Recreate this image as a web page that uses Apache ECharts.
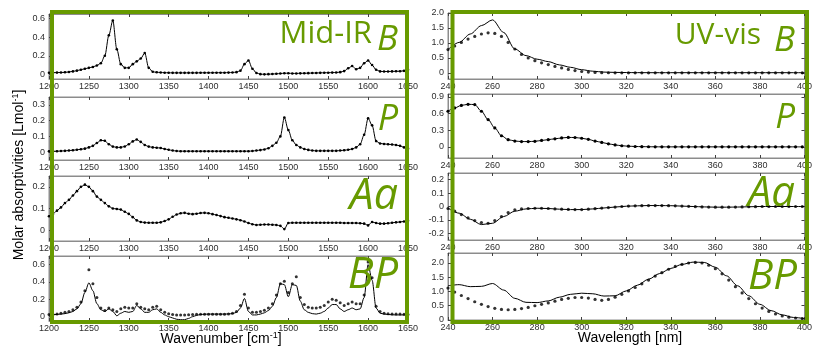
<!DOCTYPE html>
<html>
<head>
<meta charset="utf-8">
<script src="https://cdn.jsdelivr.net/npm/echarts@6/dist/echarts.min.js"></script>
<style>
html,body{margin:0;padding:0;background:#fff}
#chart{width:815px;height:347px}
</style>
</head>
<body>
<div id="chart"></div>
<script>
// ---- Mid-IR spectra, 5 cm-1 sampling ----
const irWavenumber = [
  1200,1205,1210,1215,1220,1225,1230,1235,1240,1245,
  1250,1255,1260,1265,1270,1275,1280,1285,1290,1295,
  1300,1305,1310,1315,1320,1325,1330,1335,1340,1345,
  1350,1355,1360,1365,1370,1375,1380,1385,1390,1395,
  1400,1405,1410,1415,1420,1425,1430,1435,1440,1445,
  1450,1455,1460,1465,1470,1475,1480,1485,1490,1495,
  1500,1505,1510,1515,1520,1525,1530,1535,1540,1545,
  1550,1555,1560,1565,1570,1575,1580,1585,1590,1595,
  1600,1605,1610,1615,1620,1625,1630,1635,1640,1645,
  1650
];
const irB = [
  0.018,0.018,0.019,0.020,0.022,0.026,0.032,0.040,0.050,0.060,
  0.070,0.080,0.095,0.120,0.200,0.420,0.580,0.270,0.110,0.070,
  0.070,0.110,0.140,0.170,0.230,0.070,0.028,0.022,0.020,0.018,
  0.017,0.016,0.016,0.016,0.016,0.016,0.016,0.016,0.017,0.017,
  0.017,0.017,0.018,0.018,0.018,0.019,0.020,0.024,0.040,0.110,
  0.150,0.060,0.015,0.002,0.000,0.002,0.004,0.006,0.009,0.012,
  0.012,0.010,0.010,0.011,0.012,0.013,0.014,0.015,0.016,0.017,
  0.018,0.019,0.020,0.024,0.035,0.065,0.090,0.055,0.070,0.120,
  0.150,0.100,0.050,0.032,0.030,0.031,0.032,0.033,0.034,0.038,
  0.050
];
const irP = [
  0.005,0.005,0.006,0.007,0.008,0.010,0.012,0.015,0.018,0.022,
  0.030,0.040,0.058,0.075,0.072,0.050,0.035,0.030,0.030,0.036,
  0.050,0.068,0.080,0.065,0.045,0.035,0.030,0.028,0.026,0.020,
  0.015,0.010,0.007,0.006,0.006,0.006,0.006,0.006,0.006,0.006,
  0.006,0.006,0.006,0.006,0.006,0.006,0.006,0.006,0.006,0.006,
  0.006,0.007,0.010,0.013,0.017,0.025,0.040,0.060,0.100,0.220,
  0.140,0.075,0.045,0.030,0.020,0.014,0.010,0.008,0.008,0.008,
  0.008,0.008,0.008,0.010,0.012,0.015,0.020,0.030,0.050,0.110,
  0.215,0.170,0.070,0.055,0.052,0.050,0.048,0.045,0.040,0.030,
  0.022
];
const irAa = [
  0.064,0.075,0.090,0.105,0.125,0.140,0.160,0.180,0.200,0.210,
  0.200,0.180,0.155,0.140,0.125,0.110,0.100,0.098,0.095,0.085,
  0.075,0.060,0.045,0.038,0.035,0.034,0.034,0.034,0.036,0.042,
  0.050,0.062,0.072,0.078,0.080,0.076,0.074,0.076,0.079,0.080,
  0.078,0.074,0.070,0.065,0.060,0.057,0.054,0.050,0.046,0.040,
  0.033,0.027,0.024,0.025,0.026,0.026,0.025,0.024,0.020,0.005,
  0.033,0.034,0.034,0.034,0.034,0.034,0.034,0.034,0.034,0.034,
  0.034,0.034,0.034,0.034,0.033,0.033,0.033,0.033,0.032,0.030,
  0.022,0.038,0.033,0.030,0.030,0.032,0.034,0.036,0.038,0.040,
  0.043
];
const irBPFit = [
  0.020,0.022,0.026,0.030,0.035,0.045,0.060,0.090,0.150,0.280,
  0.390,0.300,0.150,0.080,0.060,0.090,0.060,0.010,0.040,0.060,
  0.050,0.060,0.130,0.090,0.050,0.050,0.080,0.090,0.050,0.020,
  0.000,-0.015,-0.030,-0.035,-0.035,-0.020,0.000,0.015,0.025,0.028,
  0.030,0.030,0.030,0.030,0.030,0.032,0.035,0.050,0.100,0.210,
  0.060,0.020,0.020,0.030,0.045,0.070,0.120,0.220,0.380,0.370,
  0.230,0.370,0.360,0.180,0.080,0.050,0.035,0.030,0.040,0.060,
  0.100,0.140,0.140,0.090,0.060,0.080,0.100,0.080,0.090,0.220,
  0.600,0.420,0.100,0.040,0.030,0.025,0.022,0.020,0.020,0.020,
  0.020
];
const irBPMeasured = [
  0.025,0.028,0.032,0.040,0.050,0.060,0.080,0.110,0.170,0.300,
  0.540,0.380,0.220,0.100,0.070,0.100,0.080,0.060,0.090,0.110,
  0.100,0.100,0.150,0.110,0.090,0.080,0.110,0.120,0.080,0.050,
  0.035,0.025,0.020,0.020,0.020,0.022,0.025,0.028,0.028,0.028,
  0.028,0.028,0.028,0.028,0.028,0.030,0.040,0.060,0.130,0.260,
  0.100,0.050,0.050,0.060,0.075,0.100,0.150,0.250,0.380,0.410,
  0.280,0.380,0.460,0.220,0.140,0.110,0.100,0.100,0.110,0.130,
  0.170,0.200,0.190,0.160,0.130,0.150,0.170,0.150,0.150,0.250,
  0.630,0.450,0.120,0.060,0.040,0.035,0.030,0.030,0.030,0.028,
  0.025
];

// ---- UV-vis spectra: measured points every 3 nm, fitted curves every 5 nm ----
const uvWavelengthMeasured = [
  240,243,246,249,252,255,258,261,264,267,
  270,273,276,279,282,285,288,291,294,297,
  300,303,306,309,312,315,318,321,324,327,
  330,333,336,339,342,345,348,351,354,357,
  360,363,366,369,372,375,378,381,384,387,
  390,393,396,399
];
const uvWavelengthFit = [
  240,245,250,255,260,265,270,275,280,285,
  290,295,300,305,310,315,320,325,330,335,
  340,345,350,355,360,365,370,375,380,385,
  390,395,400
];
const uvBMeasured = [
  0.78,0.90,1.02,1.13,1.22,1.30,1.34,1.32,1.22,1.02,
  0.80,0.62,0.50,0.41,0.34,0.28,0.22,0.17,0.12,0.08,
  0.05,0.03,0.02,0.012,0.008,0.006,0.005,0.005,0.005,0.005,
  0.005,0.005,0.005,0.005,0.005,0.005,0.005,0.005,0.005,0.005,
  0.005,0.005,0.005,0.005,0.005,0.005,0.005,0.005,0.005,0.005,
  0.005,0.005,0.005,0.005
];
const uvBFit = [
  0.78,1.02,1.30,1.58,1.77,1.35,0.80,0.58,0.46,0.38,
  0.27,0.19,0.11,0.06,0.03,0.02,0.015,0.012,0.01,0.01,
  0.01,0.01,0.01,0.01,0.01,0.01,0.01,0.01,0.01,0.01,
  0.01,0.01,0.01
];
const uvP = [
  0.64,0.70,0.745,0.765,0.76,0.64,0.49,0.34,0.20,0.13,
  0.105,0.095,0.095,0.100,0.115,0.130,0.145,0.160,0.170,0.168,
  0.155,0.135,0.105,0.080,0.055,0.035,0.020,0.012,0.007,0.004,
  0.002,0.001,0,0,0,0,0,0,0,0,
  0,0,0,0,0,0,0,0,0,0,
  0,0,0,0
];
const uvAaMeasured = [
  -0.015,-0.035,-0.060,-0.085,-0.105,-0.120,-0.125,-0.105,-0.075,-0.045,
  -0.025,-0.018,-0.015,-0.013,-0.013,-0.015,-0.018,-0.020,-0.022,-0.023,
  -0.023,-0.020,-0.016,-0.012,-0.008,-0.004,0.000,0.003,0.005,0.006,
  0.007,0.007,0.007,0.006,0.005,0.003,0.001,-0.001,-0.003,-0.004,
  -0.005,-0.005,-0.005,-0.004,-0.003,-0.002,-0.001,0.000,0.000,0.000,
  0,0,0,0
];
const uvAaFit = [
  -0.012,-0.050,-0.095,-0.135,-0.125,-0.075,-0.035,-0.018,-0.013,-0.015,
  -0.020,-0.023,-0.023,-0.018,-0.011,-0.004,0.002,0.005,0.007,0.007,
  0.006,0.003,0.000,-0.003,-0.005,-0.005,-0.004,-0.002,0.000,0.000,
  0,0,0
];
const uvBPMeasured = [
  1.12,0.98,0.86,0.75,0.64,0.55,0.47,0.41,0.37,0.36,
  0.37,0.40,0.44,0.50,0.55,0.60,0.66,0.72,0.76,0.79,
  0.79,0.77,0.72,0.69,0.72,0.80,0.90,1.02,1.14,1.27,
  1.40,1.54,1.66,1.78,1.88,1.95,2.00,2.02,2.00,1.92,
  1.80,1.62,1.40,1.17,0.95,0.75,0.57,0.42,0.30,0.21,
  0.14,0.10,0.07,0.05
];
const uvBPFit = [
  1.20,1.24,1.17,1.18,1.28,1.05,0.76,0.62,0.61,0.67,
  0.80,0.90,0.94,0.92,0.84,0.85,1.02,1.22,1.43,1.63,
  1.81,1.95,2.03,2.02,1.85,1.55,1.20,0.85,0.55,0.33,
  0.18,0.09,0.05
];

// ---- tick labels ----
const irWavenumberTicks = [1200,1250,1300,1350,1400,1450,1500,1550,1600,1650];
const uvWavelengthTicks = [240,260,280,300,320,340,360,380,400];
const irBTicks = [0,0.2,0.4,0.6];
const irPTicks = [0,0.1,0.2,0.3];
const irAaTicks = [0,0.1,0.2];
const irBPTicks = [0,0.2,0.4,0.6];
const uvBTicks = [0,0.5,1,1.5,2];
const uvPTicks = [0,0.3,0.6,0.9];
const uvAaTicks = [-0.2,-0.1,0,0.1,0.2];
const uvBPTicks = [0,0.5,1,1.5,2];

// ---- styling ----
const GREEN = '#679a00';
const AXIS_GRAY = '#8c8c8c';
const TICK_DARK = '#404040';
const LABEL_GRAY = '#2e2e2e';
const TICK_FONT = '"Liberation Sans", Arial, sans-serif';
const BIG_FONT = '"Open Sans", sans-serif';

const pairs = (xs, ys) => xs.map((x, i) => [x, ys[i]]);
const fmtY = v => (v === 0 ? '0' : v.toFixed(1));
const fmtX = v => String(Math.round(v));

const IR_X = [1200, 1650];
const UV_X = [240, 400];

const panels = [
  { box: [49, 14, 359, 65],  xr: IR_X, xt: irWavenumberTicks, yr: [-0.05, 0.65], yt: irBTicks },
  { box: [49, 97, 359, 63],  xr: IR_X, xt: irWavenumberTicks, yr: [-0.05, 0.35], yt: irPTicks },
  { box: [49, 176, 359, 65], xr: IR_X, xt: irWavenumberTicks, yr: [-0.05, 0.25], yt: irAaTicks },
  { box: [49, 256, 359, 65], xr: IR_X, xt: irWavenumberTicks, yr: [-0.05, 0.70], yt: irBPTicks },
  { box: [448, 13, 360, 66], xr: UV_X, xt: uvWavelengthTicks, yr: [-0.2, 2.0],  yt: uvBTicks },
  { box: [448, 94, 360, 64], xr: UV_X, xt: uvWavelengthTicks, yr: [-0.2, 0.95], yt: uvPTicks },
  { box: [448, 173, 360, 67],xr: UV_X, xt: uvWavelengthTicks, yr: [-0.25, 0.25],yt: uvAaTicks },
  { box: [448, 253, 360, 67],xr: UV_X, xt: uvWavelengthTicks, yr: [0, 2.35],    yt: uvBPTicks }
];

const grid = [], xAxis = [], yAxis = [];
panels.forEach((p, i) => {
  grid.push({
    left: p.box[0], top: p.box[1], width: p.box[2], height: p.box[3],
    show: true, borderColor: AXIS_GRAY, borderWidth: 1, backgroundColor: 'transparent'
  });
  const tick = vals => ({ show: true, inside: true, length: 3, customValues: vals,
                          lineStyle: { color: TICK_DARK, width: 1 } });
  const line = { show: true, onZero: false, lineStyle: { color: AXIS_GRAY, width: 1 } };
  xAxis.push({
    type: 'value', gridIndex: i, min: p.xr[0], max: p.xr[1], position: 'bottom',
    axisLine: line, axisTick: tick(p.xt), splitLine: { show: false },
    axisLabel: { customValues: p.xt, formatter: fmtX, fontSize: 9, fontFamily: TICK_FONT,
                 color: LABEL_GRAY, margin: 3 }
  });
  xAxis.push({
    type: 'value', gridIndex: i, min: p.xr[0], max: p.xr[1], position: 'top',
    axisLine: line, axisTick: tick(p.xt), splitLine: { show: false }, axisLabel: { show: false }
  });
  yAxis.push({
    type: 'value', gridIndex: i, min: p.yr[0], max: p.yr[1], position: 'left',
    axisLine: line, axisTick: tick(p.yt), splitLine: { show: false },
    axisLabel: { customValues: p.yt, formatter: fmtY, fontSize: 9, fontFamily: TICK_FONT,
                 color: LABEL_GRAY, margin: 4 }
  });
  yAxis.push({
    type: 'value', gridIndex: i, min: p.yr[0], max: p.yr[1], position: 'right',
    axisLine: line, axisTick: tick(p.yt), splitLine: { show: false }, axisLabel: { show: false }
  });
});

const curve = (i, data, withDots, dotSize) => ({
  type: 'line', xAxisIndex: 2 * i, yAxisIndex: 2 * i, data,
  smooth: 0.3, smoothMonotone: 'x',
  showSymbol: !!withDots, showAllSymbol: true, symbol: 'circle', symbolSize: dotSize || 2.5,
  itemStyle: { color: '#000' }, lineStyle: { color: '#000', width: 1 },
  silent: true, z: 3
});
const dots = (i, data, size) => ({
  type: 'scatter', xAxisIndex: 2 * i, yAxisIndex: 2 * i, data,
  symbol: 'circle', symbolSize: size, itemStyle: { color: '#000' }, silent: true, z: 4
});

const series = [
  curve(0, pairs(irWavenumber, irB), true, 2.6),
  curve(1, pairs(irWavenumber, irP), true, 2.6),
  curve(2, pairs(irWavenumber, irAa), true, 2.6),
  curve(3, pairs(irWavenumber, irBPFit), false),
  dots(3, pairs(irWavenumber, irBPMeasured), 3),
  curve(4, pairs(uvWavelengthFit, uvBFit), false),
  dots(4, pairs(uvWavelengthMeasured, uvBMeasured), 3.2),
  curve(5, pairs(uvWavelengthMeasured, uvP), true, 3.2),
  curve(6, pairs(uvWavelengthFit, uvAaFit), false),
  dots(6, pairs(uvWavelengthMeasured, uvAaMeasured), 3.2),
  curve(7, pairs(uvWavelengthFit, uvBPFit), false),
  dots(7, pairs(uvWavelengthMeasured, uvBPMeasured), 3.2)
];

const bigText = (text, x, y, size, italic) => ({
  type: 'text', x, y, z: 120,
  style: { text, fill: GREEN, align: 'right', verticalAlign: 'middle',
           font: (italic ? 'italic ' : '') + size + 'px ' + BIG_FONT }
});
const supRich = { sup: { fontSize: 9, fontFamily: TICK_FONT, fill: '#000', verticalAlign: 'top', lineHeight: 16 } };

const graphic = [
  { type: 'rect', z: 110, shape: { x: 52, y: 12, width: 355, height: 310 },
    style: { fill: 'none', stroke: GREEN, lineWidth: 4 } },
  { type: 'rect', z: 110, shape: { x: 452.5, y: 12, width: 354.5, height: 310 },
    style: { fill: 'none', stroke: GREEN, lineWidth: 4 } },
  bigText('Mid-IR', 372, 34, 31, false),
  bigText('B', 398, 40, 35, true),
  bigText('P', 398, 120, 36, true),
  bigText('Aa', 398, 197, 43, true),
  bigText('BP', 398, 276, 43, true),
  bigText('UV-vis', 761, 35, 30, false),
  bigText('B', 795, 41, 35, true),
  bigText('P', 795, 118, 35, true),
  bigText('Aa', 795, 194, 42, true),
  bigText('BP', 797, 277, 42, true),
  { type: 'text', z: 120, x: 19, y: 175, rotation: Math.PI / 2,
    style: { text: 'Molar absorptivities [Lmol{sup|-1}]', rich: supRich, fill: '#000',
             font: '14px ' + TICK_FONT, align: 'center', verticalAlign: 'middle', lineHeight: 16 } },
  { type: 'text', z: 120, x: 221, y: 339,
    style: { text: 'Wavenumber [cm{sup|-1}]', rich: supRich, fill: '#000',
             font: '14px ' + TICK_FONT, align: 'center', verticalAlign: 'middle', lineHeight: 16 } },
  { type: 'text', z: 120, x: 630, y: 338,
    style: { text: 'Wavelength [nm]', fill: '#000',
             font: '14px ' + TICK_FONT, align: 'center', verticalAlign: 'middle' } }
];

const chart = echarts.init(document.getElementById('chart'), null, { renderer: 'canvas' });
chart.setOption({
  animation: false,
  backgroundColor: '#fff',
  grid, xAxis, yAxis, series, graphic
});
</script>
</body>
</html>
